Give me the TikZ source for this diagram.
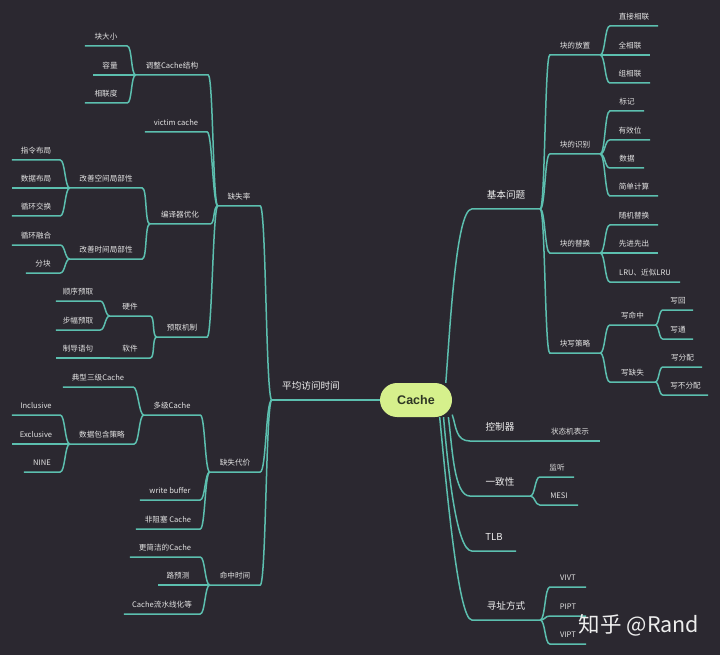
\documentclass[tikz,border=0pt]{standalone}
\usepackage{fontspec}
\setmainfont{Noto Sans CJK SC}
\newfontfamily\rootfont{Liberation Sans}
\usetikzlibrary{backgrounds}

\definecolor{bgcol}{HTML}{2B2830}
\definecolor{linecol}{HTML}{5CBFAF}
\definecolor{txtcol}{HTML}{E2E2E2}
\definecolor{rootcol}{HTML}{D6F08C}
\definecolor{roottxt}{HTML}{2E3624}

\tikzset{
  leaf/.style={anchor=south, inner xsep=0pt, inner ysep=5.2pt, text=txtcol,
    text height=6pt, text depth=1.5pt, font=\fontsize{7.6}{9}\selectfont, minimum width=#1pt},
  main/.style={anchor=south, inner xsep=0pt, inner ysep=8.5pt, text=white!94!black,
    text height=7.6pt, text depth=2pt, font=\fontsize{9.6}{11}\selectfont, minimum width=#1pt},
  link/.style={draw=linecol, line width=1.5pt},
  rbr/.style={to path={.. controls +(#1,0) and +(-#1,0) .. (\tikztotarget)}},
  lbr/.style={to path={.. controls +(-#1,0) and +(#1,0) .. (\tikztotarget)}},
  rbr/.default=5, lbr/.default=5
}

\begin{document}
\begin{tikzpicture}[x=1pt, y=-1pt]
    % Root
    \node[fill=rootcol, rounded corners=17pt, minimum width=72pt, minimum height=34pt, inner sep=0pt,
          text=roottxt, font=\rootfont\bfseries\fontsize{12.5}{14}\selectfont] (root) at (416,400) {Cache};

    % --- RIGHT SIDE ---
    \node[main=68] (basic) at (506,209) {基本问题};
    \node[leaf=50] (place) at (575,55) {块的放置};
    \node[leaf=48] (direct) at (634,26) {直接相联};
    \node[leaf=40] (full) at (630,55) {全相联};
    \node[leaf=40] (setassoc) at (630,83) {组相联};
    \node[leaf=50] (ident) at (575,154) {块的识别};
    \node[leaf=34] (tag) at (627,111) {标记};
    \node[leaf=40] (valid) at (630,140) {有效位};
    \node[leaf=34] (data) at (627,168) {数据};
    \node[leaf=48] (calc) at (634,196) {简单计算};
    \node[leaf=50] (repl) at (575,253) {块的替换};
    \node[leaf=48] (rand) at (634,225) {随机替换};
    \node[leaf=48] (fifo) at (634,253) {先进先出};
    \node[leaf=70] (lru) at (645,282) {LRU、近似LRU};
    \node[leaf=50] (wpol) at (575,353) {块写策略};
    \node[leaf=45] (whit) at (632.5,325) {写命中};
    \node[leaf=30] (wback) at (678,310) {写回};
    \node[leaf=30] (wthru) at (678,339) {写通};
    \node[leaf=45] (wmiss) at (632.5,382) {写缺失};
    \node[leaf=39] (walloc) at (682.5,367) {写分配};
    \node[leaf=45] (wnoalloc) at (685.5,395) {写不分配};

    \node[main=60] (ctrl) at (500,441) {控制器};
    \node[leaf=60] (fsm) at (570,441) {状态机表示};
    \node[main=60] (coh) at (500,496) {一致性};
    \node[leaf=34] (snoop) at (557,477) {监听};
    \node[leaf=38] (mesi) at (559,505) {MESI};
    \node[main=44] (tlb) at (494,551) {TLB};
    \node[main=68] (addr) at (506,620) {寻址方式};
    \node[leaf=36] (vivt) at (568,587) {VIVT};
    \node[leaf=36] (pipt) at (568,616) {PIPT};
    \node[leaf=36] (vipt) at (568,644) {VIPT};

    % --- LEFT SIDE ---
    \node[main=78] (amat) at (311,400) {平均访问时间};
    \node[leaf=42] (miss) at (239,206) {缺失率};
    \node[leaf=72] (struct) at (172,75) {调整Cache结构};
    \node[leaf=42] (bsize) at (106,46) {块大小};
    \node[leaf=34] (cap) at (110,75) {容量};
    \node[leaf=42] (assoc) at (106,103) {相联度};
    \node[leaf=62] (victim) at (176,132) {victim cache};
    \node[leaf=60] (comp) at (180,224) {编译器优化};
    \node[leaf=72] (spatial) at (106,188) {改善空间局部性};
    \node[leaf=48] (instr) at (36,160) {指令布局};
    \node[leaf=48] (dlayout) at (36,188) {数据布局};
    \node[leaf=48] (inter) at (36,216) {循环交换};
    \node[leaf=72] (temporal) at (106,259) {改善时间局部性};
    \node[leaf=48] (fusion) at (36,245) {循环融合};
    \node[leaf=34] (tiling) at (43,273) {分块};
    \node[leaf=50] (prefetch) at (182,337) {预取机制};
    \node[leaf=40] (hw) at (130,316) {硬件};
    \node[leaf=44] (seqpf) at (78,301) {顺序预取};
    \node[leaf=44] (stridepf) at (78,330) {步幅预取};
    \node[leaf=40] (sw) at (130,358) {软件};
    \node[leaf=44] (hint) at (78,358) {制导语句};

    \node[leaf=50] (penalty) at (235,472) {缺失代价};
    \node[leaf=56] (multi) at (172,415) {多级Cache};
    \node[leaf=70] (three) at (98,387) {典型三级Cache};
    \node[leaf=64] (incl) at (102,444) {数据包含策略};
    \node[leaf=48] (inclusive) at (36,415) {Inclusive};
    \node[leaf=48] (exclusive) at (36,444) {Exclusive};
    \node[leaf=36] (nine) at (42,472) {NINE};
    \node[leaf=60] (wbuf) at (170,500) {write buffer};
    \node[leaf=64] (nonblock) at (168,529) {非阻塞 Cache};

    \node[leaf=50] (hit) at (235,585) {命中时间};
    \node[leaf=70] (simple) at (165,557) {更简洁的Cache};
    \node[leaf=40] (waypred) at (178,585) {路预测};
    \node[leaf=76] (pipe) at (162,614) {Cache流水线化等};

    % Watermark
    \node[font=\fontsize{21.5}{24}\selectfont, text=white!93!black] (wm) at (639,625) {知乎 @Rand};

    \begin{scope}[on background layer]
        \fill[bgcol] (0,0) rectangle (720,655);

        % root -> first level
        \draw[link] (root.30) .. controls +(4,-50) and +(-16,0) .. (basic.south west) -- (basic.south east);
        \draw[link] (root.-22) .. controls +(4,12) and +(-14,0) .. (ctrl.south west) -- (ctrl.south east);
        \draw[link] (root.-28) .. controls +(4,30) and +(-16,0) .. (coh.south west) -- (coh.south east);
        \draw[link] (root.-32) .. controls +(4,45) and +(-16,0) .. (tlb.south west) -- (tlb.south east);
        \draw[link] (root.-36) .. controls +(6,60) and +(-14,0) .. (addr.south west) -- (addr.south east);
        \draw[link] (root.west) -- (amat.south east) -- (amat.south west);

        % basic
        \draw[link] (basic.south east) to[rbr] (place.south west) -- (place.south east);
        \draw[link] (basic.south east) to[rbr] (ident.south west) -- (ident.south east);
        \draw[link] (basic.south east) to[rbr] (repl.south west) -- (repl.south east);
        \draw[link] (basic.south east) to[rbr] (wpol.south west) -- (wpol.south east);
        \draw[link] (place.south east) to[rbr] (direct.south west) -- (direct.south east);
        \draw[link] (place.south east) to[rbr] (full.south west) -- (full.south east);
        \draw[link] (place.south east) to[rbr] (setassoc.south west) -- (setassoc.south east);
        \draw[link] (ident.south east) to[rbr] (tag.south west) -- (tag.south east);
        \draw[link] (ident.south east) to[rbr] (valid.south west) -- (valid.south east);
        \draw[link] (ident.south east) to[rbr] (data.south west) -- (data.south east);
        \draw[link] (ident.south east) to[rbr] (calc.south west) -- (calc.south east);
        \draw[link] (repl.south east) to[rbr] (rand.south west) -- (rand.south east);
        \draw[link] (repl.south east) to[rbr] (fifo.south west) -- (fifo.south east);
        \draw[link] (repl.south east) to[rbr] (lru.south west) -- (lru.south east);
        \draw[link] (wpol.south east) to[rbr] (whit.south west) -- (whit.south east);
        \draw[link] (wpol.south east) to[rbr] (wmiss.south west) -- (wmiss.south east);
        \draw[link] (whit.south east) to[rbr=4] (wback.south west) -- (wback.south east);
        \draw[link] (whit.south east) to[rbr=4] (wthru.south west) -- (wthru.south east);
        \draw[link] (wmiss.south east) to[rbr=4] (walloc.south west) -- (walloc.south east);
        \draw[link] (wmiss.south east) to[rbr=4] (wnoalloc.south west) -- (wnoalloc.south east);

        % ctrl, coh, addr
        \draw[link] (ctrl.south east) -- (fsm.south west) -- (fsm.south east);
        \draw[link] (coh.south east) to[rbr] (snoop.south west) -- (snoop.south east);
        \draw[link] (coh.south east) to[rbr] (mesi.south west) -- (mesi.south east);
        \draw[link] (addr.south east) to[rbr] (vivt.south west) -- (vivt.south east);
        \draw[link] (addr.south east) to[rbr] (pipt.south west) -- (pipt.south east);
        \draw[link] (addr.south east) to[rbr] (vipt.south west) -- (vipt.south east);

        % amat
        \draw[link] (amat.south west) to[lbr=6] (miss.south east) -- (miss.south west);
        \draw[link] (amat.south west) to[lbr=6] (penalty.south east) -- (penalty.south west);
        \draw[link] (amat.south west) to[lbr=6] (hit.south east) -- (hit.south west);

        % miss
        \draw[link] (miss.south west) to[lbr] (struct.south east) -- (struct.south west);
        \draw[link] (miss.south west) to[lbr] (victim.south east) -- (victim.south west);
        \draw[link] (miss.south west) to[lbr] (comp.south east) -- (comp.south west);
        \draw[link] (miss.south west) to[lbr] (prefetch.south east) -- (prefetch.south west);
        \draw[link] (struct.south west) to[lbr] (bsize.south east) -- (bsize.south west);
        \draw[link] (struct.south west) to[lbr] (cap.south east) -- (cap.south west);
        \draw[link] (struct.south west) to[lbr] (assoc.south east) -- (assoc.south west);
        \draw[link] (comp.south west) to[lbr] (spatial.south east) -- (spatial.south west);
        \draw[link] (comp.south west) to[lbr] (temporal.south east) -- (temporal.south west);
        \draw[link] (spatial.south west) to[lbr] (instr.south east) -- (instr.south west);
        \draw[link] (spatial.south west) to[lbr] (dlayout.south east) -- (dlayout.south west);
        \draw[link] (spatial.south west) to[lbr] (inter.south east) -- (inter.south west);
        \draw[link] (temporal.south west) to[lbr] (fusion.south east) -- (fusion.south west);
        \draw[link] (temporal.south west) to[lbr] (tiling.south east) -- (tiling.south west);
        \draw[link] (prefetch.south west) to[lbr] (hw.south east) -- (hw.south west);
        \draw[link] (prefetch.south west) to[lbr] (sw.south east) -- (sw.south west);
        \draw[link] (hw.south west) to[lbr] (seqpf.south east) -- (seqpf.south west);
        \draw[link] (hw.south west) to[lbr] (stridepf.south east) -- (stridepf.south west);
        \draw[link] (sw.south west) -- (hint.south east) -- (hint.south west);

        % penalty
        \draw[link] (penalty.south west) to[lbr] (multi.south east) -- (multi.south west);
        \draw[link] (penalty.south west) to[lbr] (wbuf.south east) -- (wbuf.south west);
        \draw[link] (penalty.south west) to[lbr] (nonblock.south east) -- (nonblock.south west);
        \draw[link] (multi.south west) to[lbr] (three.south east) -- (three.south west);
        \draw[link] (multi.south west) to[lbr] (incl.south east) -- (incl.south west);
        \draw[link] (incl.south west) to[lbr] (inclusive.south east) -- (inclusive.south west);
        \draw[link] (incl.south west) to[lbr] (exclusive.south east) -- (exclusive.south west);
        \draw[link] (incl.south west) to[lbr] (nine.south east) -- (nine.south west);

        % hit
        \draw[link] (hit.south west) to[lbr] (simple.south east) -- (simple.south west);
        \draw[link] (hit.south west) to[lbr] (waypred.south east) -- (waypred.south west);
        \draw[link] (hit.south west) to[lbr] (pipe.south east) -- (pipe.south west);
    \end{scope}
\end{tikzpicture}
\end{document}
